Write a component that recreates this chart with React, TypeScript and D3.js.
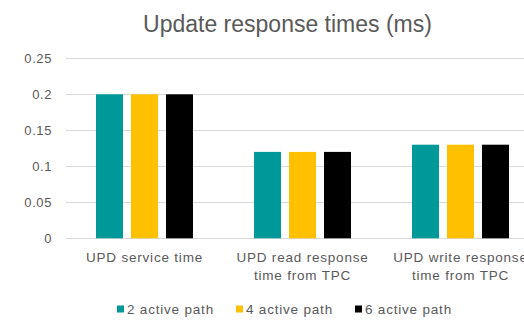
import React from 'react';
import * as d3 from 'd3';

const W = 524;
const H = 320;

const categories = [
    ['UPD service time'],
    ['UPD read response', 'time from TPC'],
    ['UPD write response', 'time from TPC'],
];
const catKeys = ['svc', 'read', 'write'];

const seriesNames = ['2 active path', '4 active path', '6 active path'];
const seriesColors = ['#009999', '#FFC000', '#000000'];

const path2 = [0.2, 0.12, 0.13];
const path4 = [0.2, 0.12, 0.13];
const path6 = [0.2, 0.12, 0.13];
const seriesValues = [path2, path4, path6];

const yTicks = [0, 0.05, 0.1, 0.15, 0.2, 0.25];

const FONT = '"Liberation Sans", Arial, sans-serif';
const TEXT = '#595959';

export default function App() {
    const x0 = d3.scaleBand().domain(catKeys).range([65.5, 539.5]);
    const x1 = d3
        .scaleBand()
        .domain(seriesNames)
        .range([0, x0.bandwidth()])
        .paddingInner(0.2286)
        .paddingOuter(0.871);
    const y = d3.scaleLinear().domain([0, 0.25]).range([238.3, 58.3]);

    const legendX = [117, 236, 355];

    return (
        <svg width={W} height={H} style={{ position: 'absolute', left: 0, top: 0, background: '#fff' }} fontFamily={FONT}>
            <text x={287.5} y={32} textAnchor="middle" fontSize={23} fill={TEXT}>
                Update response times (ms)
            </text>
            {yTicks.map((t) => (
                <g key={t}>
                    <line x1={65.5} x2={W} y1={Math.round(y(t)) + 0.5} y2={Math.round(y(t)) + 0.5} stroke="#d9d9d9" strokeWidth={1} />
                    <text x={52} y={y(t) + 4.5} textAnchor="end" fontSize={13} fill={TEXT} letterSpacing={0.6}>
                        {d3.format('')(t)}
                    </text>
                </g>
            ))}
            {catKeys.map((c, ci) => (
                <g key={c} transform={`translate(${x0(c)},0)`}>
                    {seriesNames.map((s, si) => (
                        <rect
                            key={s}
                            x={x1(s)}
                            y={y(seriesValues[si][ci])}
                            width={x1.bandwidth()}
                            height={y(0) - y(seriesValues[si][ci])}
                            fill={seriesColors[si]}
                        />
                    ))}
                    {categories[ci].map((line, li) => (
                        <text
                            key={li}
                            x={x0.bandwidth() / 2}
                            y={262 + li * 18}
                            textAnchor="middle"
                            fontSize={13.5}
                            fill={TEXT}
                            letterSpacing={0.8}
                        >
                            {line}
                        </text>
                    ))}
                </g>
            ))}
            {seriesNames.map((s, i) => (
                <g key={s}>
                    <rect x={legendX[i]} y={305.5} width={7} height={7} fill={seriesColors[i]} />
                    <text x={legendX[i] + 10} y={314} fontSize={13.5} fill={TEXT} letterSpacing={0.8}>
                        {s}
                    </text>
                </g>
            ))}
        </svg>
    );
}
